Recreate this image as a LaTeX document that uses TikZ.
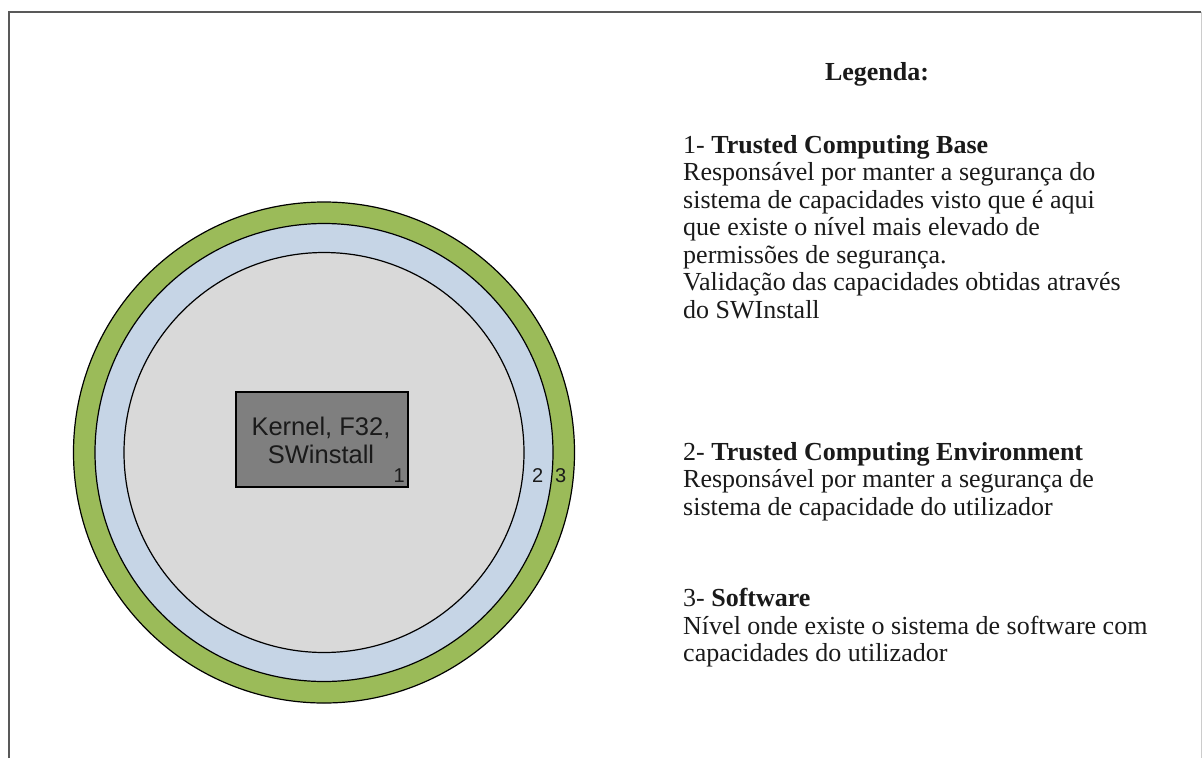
\documentclass[tikz,border=0pt]{standalone}
\usepackage{fontspec}
\setmainfont{Liberation Serif}
\newfontfamily\arialfont{Liberation Sans}
\definecolor{ringgreen}{HTML}{9BBB59}
\definecolor{ringblue}{HTML}{C6D5E6}
\definecolor{coregray}{HTML}{D9D9D9}
\definecolor{boxgray}{HTML}{7F7F7F}
\definecolor{inktext}{HTML}{1A1A1A}

\begin{document}
\begin{tikzpicture}[x=1pt,y=-1pt,
  ring/.style={circle,draw=black,line width=1.2pt,inner sep=0pt},
  legline/.style={anchor=base west,inner sep=0pt,text=inktext,
    font=\fontsize{26}{28}\selectfont},
  boxline/.style={anchor=base,inner sep=0pt,text=inktext,
    font=\arialfont\fontsize{25.5}{28}\selectfont},
  tiernum/.style={inner sep=0pt,text=inktext,
    font=\arialfont\fontsize{20}{22}\selectfont}]

% page and frame
\useasboundingbox (0,0) rectangle (1202,758);
\fill[white] (0,0) rectangle (1202,758);
\draw[black!65, line width=2pt] (9,758) -- (9,12) -- (1201,12);
\draw[black!20, line width=1pt] (1201,12) -- (1201,758);

% concentric protection levels
\node[ring,fill=ringgreen,minimum size=501pt] (tier3) at (324,452.5) {};
\node[ring,fill=ringblue,minimum size=458pt] (tier2) at (324,452.5) {};
\node[ring,fill=coregray,minimum size=400pt] (tier1) at (324,452.5) {};

% trusted core
\node[draw=black,fill=boxgray,line width=1.2pt,inner sep=0pt,
      minimum width=172pt,minimum height=95pt] (core) at (322,439.5) {};
\node[boxline] (coreA) at (321,435) {Kernel, F32,};
\node[boxline] (coreB) at (321,463) {SWinstall};

% level numbers
\node[tiernum,anchor=base east] (n1) at (405,482) {1};
\node[tiernum,anchor=base west] (n2) at (532,482) {2};
\node[tiernum,anchor=base west] (n3) at (555,482) {3};

% legend
\node[legline,anchor=base,font=\bfseries\fontsize{26}{28}\selectfont] (leg) at (877,80) {Legenda:};

\node[legline] (a1) at (683,153) {1- \textbf{Trusted Computing Base}};
\node[legline] (a2) at (683,180.5) {Responsável por manter a segurança do};
\node[legline] (a3) at (683,208) {sistema de capacidades visto que é aqui};
\node[legline] (a4) at (683,235.5) {que existe o nível mais elevado de};
\node[legline] (a5) at (683,263) {permissões de segurança.};
\node[legline] (a6) at (683,290.5) {Validação das capacidades obtidas através};
\node[legline] (a7) at (683,318) {do SWInstall};

\node[legline] (b1) at (683,460) {2- \textbf{Trusted Computing Environment}};
\node[legline] (b2) at (683,487.5) {Responsável por manter a segurança de};
\node[legline] (b3) at (683,515) {sistema de capacidade do utilizador};

\node[legline] (c1) at (683,606) {3- \textbf{Software}};
\node[legline] (c2) at (683,634) {Nível onde existe o sistema de software com};
\node[legline] (c3) at (683,661) {capacidades do utilizador};
\end{tikzpicture}
\end{document}
